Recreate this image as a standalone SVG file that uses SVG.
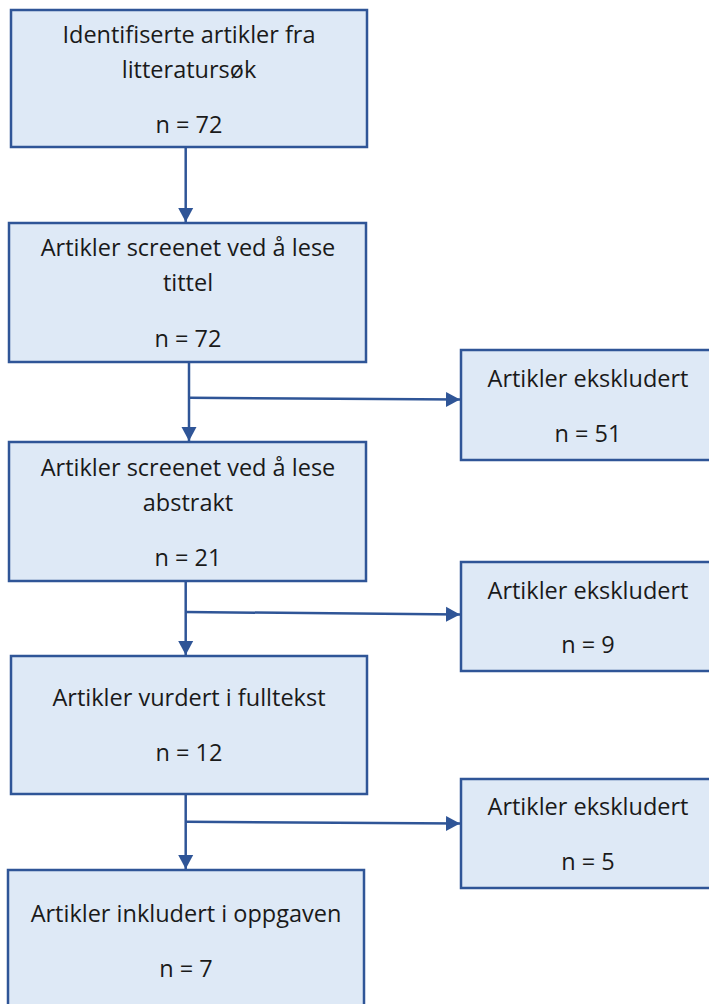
<svg xmlns="http://www.w3.org/2000/svg" width="709" height="1004" viewBox="0 0 709 1004">
<defs>
<style>
.box{fill:#dee9f6;stroke:#2f5597;stroke-width:2.5}
.t{font-family:"Open Sans",Lato,sans-serif;font-size:23.5px;fill:#1a1a1a;text-anchor:middle;font-variant-ligatures:none}
.c{fill:none;stroke:#2f5597;stroke-width:2.5}
</style>
<marker id="ah" markerUnits="userSpaceOnUse" markerWidth="15" markerHeight="16" refX="14" refY="8" orient="auto" viewBox="0 0 15 16">
<path d="M0,0.5 L14,8 L0,15.5 z" fill="#2f5597"/>
</marker>
</defs>
<rect width="709" height="1004" fill="#ffffff"/>
<g id="connectors">
<line class="c" x1="185.7" y1="147" x2="185.7" y2="222" marker-end="url(#ah)"/>
<line class="c" x1="189" y1="362" x2="189" y2="441" marker-end="url(#ah)"/>
<line class="c" x1="189" y1="397.7" x2="460" y2="399.5" marker-end="url(#ah)"/>
<line class="c" x1="185.7" y1="581" x2="185.7" y2="655" marker-end="url(#ah)"/>
<line class="c" x1="185.7" y1="612" x2="460" y2="614.5" marker-end="url(#ah)"/>
<line class="c" x1="185.7" y1="794" x2="185.7" y2="869" marker-end="url(#ah)"/>
<line class="c" x1="185.7" y1="821.7" x2="460" y2="823.5" marker-end="url(#ah)"/>
</g>
<g id="n1">
<rect class="box" x="11" y="10" width="356" height="137"/>
<text class="t" x="189" y="43">Identifiserte artikler fra</text>
<text class="t" x="189" y="78">litteratursøk</text>
<text class="t" x="189" y="133">n = 72</text>
</g>
<g id="n2">
<rect class="box" x="9" y="223" width="357" height="139"/>
<text class="t" x="188" y="256">Artikler screenet ved å lese</text>
<text class="t" x="188" y="291">tittel</text>
<text class="t" x="188" y="346.7">n = 72</text>
</g>
<g id="n3">
<rect class="box" x="9" y="442" width="357" height="139"/>
<text class="t" x="188" y="475.5">Artikler screenet ved å lese</text>
<text class="t" x="188" y="510.5">abstrakt</text>
<text class="t" x="188" y="566">n = 21</text>
</g>
<g id="n4">
<rect class="box" x="11" y="656" width="356" height="138"/>
<text class="t" x="189" y="706">Artikler vurdert i fulltekst</text>
<text class="t" x="189" y="761">n = 12</text>
</g>
<g id="n5">
<rect class="box" x="8" y="870" width="356" height="145"/>
<text class="t" x="186" y="921.7">Artikler inkludert i oppgaven</text>
<text class="t" x="186" y="976.7">n = 7</text>
</g>
<g id="e1">
<rect class="box" x="461" y="350" width="254" height="110"/>
<text class="t" x="588" y="387">Artikler ekskludert</text>
<text class="t" x="588" y="442">n = 51</text>
</g>
<g id="e2">
<rect class="box" x="461" y="562" width="254" height="109"/>
<text class="t" x="588" y="599">Artikler ekskludert</text>
<text class="t" x="588" y="653">n = 9</text>
</g>
<g id="e3">
<rect class="box" x="461" y="779" width="254" height="109"/>
<text class="t" x="588" y="815">Artikler ekskludert</text>
<text class="t" x="588" y="870">n = 5</text>
</g>
</svg>
